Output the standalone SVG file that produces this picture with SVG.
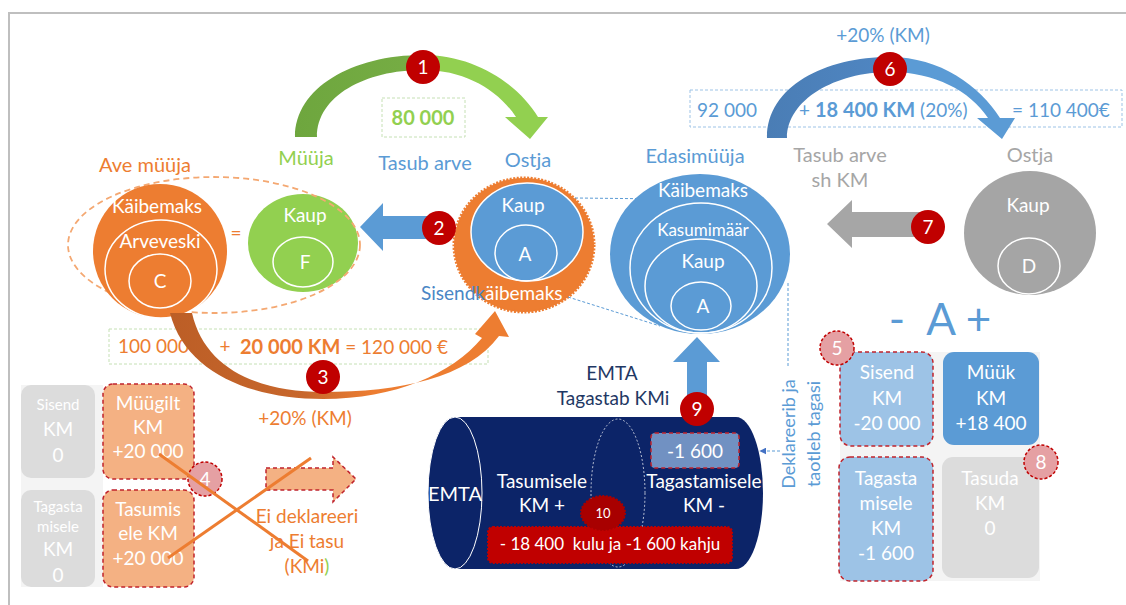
<svg xmlns="http://www.w3.org/2000/svg" width="1126" height="605" viewBox="0 0 1126 605">
<defs>
  <linearGradient id="gGreen" gradientUnits="userSpaceOnUse" x1="295" y1="0" x2="548" y2="0">
    <stop offset="0" stop-color="#6EA63E"/><stop offset="0.49" stop-color="#76AD44"/><stop offset="0.53" stop-color="#92D050"/><stop offset="1" stop-color="#92D050"/>
  </linearGradient>
  <linearGradient id="gBlue" gradientUnits="userSpaceOnUse" x1="767" y1="0" x2="1015" y2="0">
    <stop offset="0" stop-color="#4A7DB5"/><stop offset="0.48" stop-color="#4F86C2"/><stop offset="0.53" stop-color="#5B9BD5"/><stop offset="1" stop-color="#5B9BD5"/>
  </linearGradient>
  <linearGradient id="gOrange" gradientUnits="userSpaceOnUse" x1="170" y1="0" x2="509" y2="0">
    <stop offset="0" stop-color="#BC5E26"/><stop offset="0.4" stop-color="#C8672C"/><stop offset="0.6" stop-color="#ED7D31"/><stop offset="1" stop-color="#ED7D31"/>
  </linearGradient>
  <marker id="arrB" viewBox="0 0 10 10" refX="9" refY="5" markerWidth="7" markerHeight="7" orient="auto-start-reverse">
    <path d="M0,0 L10,5 L0,10 z" fill="#4472C4"/>
  </marker>
</defs>
<style>
  text { font-family: Lato, "Liberation Sans", sans-serif; text-anchor: middle; font-size: 19px; }
  .lbl { font-size: 20px; }
  .w { fill: #ffffff; }
  .blue { fill: #5B9BD5; }
  .green { fill: #92D050; }
  .orange { fill: #ED7D31; }
  .gray { fill: #A6A6A6; }
  .navy { fill: #1F3864; }
  .b { font-weight: bold; }
  .s { text-anchor: start; }
  .badge { fill: #C00000; }
  .pbadge { fill: #E5A0A3; stroke: #C00000; stroke-width: 1.5; stroke-dasharray: 3 2; }
  .ring { fill: none; stroke: #ffffff; stroke-width: 1.5; }
  .rdash { stroke: #C0232C; stroke-width: 1.5; stroke-dasharray: 4 3; }
  .cdash { fill: none; stroke: #5B9BD5; stroke-width: 1; stroke-dasharray: 3 2; }
</style>
<rect x="0" y="0" width="1126" height="605" fill="#ffffff"/>
<path d="M9,605 L9,13 L1126,13" fill="none" stroke="#BFBFBF" stroke-width="2"/>

<g id="labels-top">
  <text x="306" y="165" class="green lbl">Müüja</text>
  <text x="425" y="170" class="blue lbl">Tasub arve</text>
  <text x="528" y="167" class="blue lbl">Ostja</text>
  <rect x="382" y="98" width="83" height="39" fill="none" stroke="#C5E0B4" stroke-width="1" stroke-dasharray="3 2"/>
  <text x="423" y="125" class="green b" style="font-size:20px">80 000</text>
  <text x="145" y="172" class="orange lbl">Ave müüja</text>
  <text x="695" y="163" class="blue lbl">Edasimüüja</text>
  <text x="883" y="42" class="blue">+20% (KM)</text>
  <rect x="690" y="90" width="432" height="37" fill="none" stroke="#9DC3E6" stroke-width="1" stroke-dasharray="3 2"/>
  <text x="727" y="117" class="blue">92 000</text>
  <text x="799" y="117" class="blue s">+ <tspan class="b" style="font-size:20px">18 400 KM</tspan> (20%)</text>
  <text x="1012" y="117" class="blue s">= 110 400€</text>
  <text x="840" y="162" class="gray lbl">Tasub arve</text>
  <text x="840" y="187" class="gray lbl">sh KM</text>
  <text x="1030" y="162" class="gray lbl">Ostja</text>
</g>

<g id="node-myyja">
  <ellipse cx="303" cy="243" rx="55" ry="49" fill="#92D050"/>
  <ellipse cx="303" cy="262" rx="30" ry="25" class="ring"/>
  <text x="305" y="222" class="w">Kaup</text>
  <text x="305" y="269" class="w">F</text>
</g>

<g id="node-ave-myyja">
  <ellipse cx="214" cy="245" rx="146" ry="68" fill="none" stroke="#F4A872" stroke-width="1.8" stroke-dasharray="6 4"/>
  <ellipse cx="160" cy="251" rx="67" ry="67" fill="#ED7D31"/>
  <ellipse cx="161" cy="269" rx="56" ry="49" class="ring"/>
  <ellipse cx="160" cy="281" rx="31" ry="27" class="ring"/>
  <text x="157" y="213" class="w">Käibemaks</text>
  <text x="160" y="248" class="w">Arveveski</text>
  <text x="160" y="288" class="w">C</text>
  <text x="236" y="240" class="orange">=</text>
</g>

<g id="node-ostja">
  <ellipse cx="524" cy="245" rx="70" ry="67" fill="#ED7D31" stroke="#ED7D31" stroke-width="3" stroke-dasharray="2 1.5"/>
  <ellipse cx="527" cy="232" rx="56" ry="49" fill="#5B9BD5" stroke="#ffffff" stroke-width="1.5"/>
  <ellipse cx="526" cy="253" rx="31" ry="28" class="ring"/>
  <text x="523" y="212" class="w">Kaup</text>
  <text x="525" y="261" class="w">A</text>
  <text x="421" y="300" class="s"><tspan fill="#4A86C5">Sisendk</tspan><tspan fill="#ffffff">äibemaks</tspan></text>
</g>

<g id="node-edasimyyja">
  <ellipse cx="700" cy="254" rx="90" ry="80" fill="#5B9BD5"/>
  <ellipse cx="701" cy="268" rx="71" ry="65" class="ring"/>
  <ellipse cx="701" cy="286" rx="56" ry="47" class="ring"/>
  <ellipse cx="701" cy="306" rx="30" ry="24" class="ring"/>
  <text x="703" y="197" class="w">Käibemaks</text>
  <text x="703" y="236" class="w" style="font-size:17px">Kasumimäär</text>
  <text x="703" y="268" class="w">Kaup</text>
  <text x="703" y="313" class="w">A</text>
</g>

<g id="node-ostja2">
  <ellipse cx="1030" cy="233" rx="66" ry="62" fill="#A5A5A5"/>
  <ellipse cx="1029" cy="266" rx="31" ry="28" class="ring"/>
  <text x="1028" y="212" class="w">Kaup</text>
  <text x="1029" y="273" class="w">D</text>
</g>

<g id="node-summa3">
  <rect x="109" y="329" width="379" height="35" fill="none" stroke="#C5E0B4" stroke-width="1" stroke-dasharray="3 2"/>
  <text x="118" y="353" class="orange s">100 000</text>
  <text x="225" y="353" class="orange">+</text>
  <text x="240" y="354" class="orange s"><tspan class="b" style="font-size:20px">20 000 KM</tspan> = 120 000 €</text>
  <text x="305" y="425" class="orange">+20% (KM)</text>
</g>

<g id="node-left-boxes">
  <rect x="21" y="385" width="82" height="202" fill="#F4F4F4"/>
  <rect x="21" y="385" width="74" height="93" rx="10" fill="#DCDCDC"/>
  <text x="58" y="410" class="w" style="font-size:15px">Sisend</text>
  <text x="58" y="436" class="w">KM</text>
  <text x="58" y="462" class="w">0</text>
  <rect x="21" y="490" width="74" height="97" rx="10" fill="#DCDCDC"/>
  <text x="58" y="512" class="w" style="font-size:15px">Tagasta</text>
  <text x="58" y="532" class="w" style="font-size:15px">misele</text>
  <text x="58" y="556" class="w">KM</text>
  <text x="58" y="582" class="w">0</text>
  <rect x="103" y="384" width="91" height="95" rx="10" fill="#F4B183" class="rdash"/>
  <text x="148" y="410" class="w">Müügilt</text>
  <text x="148" y="434" class="w">KM</text>
  <text x="148" y="458" class="w">+20 000</text>
  <rect x="103" y="490" width="91" height="97" rx="10" fill="#F4B183" class="rdash"/>
  <text x="148" y="516" class="w">Tasumis</text>
  <text x="148" y="540" class="w">ele KM</text>
  <text x="148" y="565" class="w">+20 000</text>
  <circle cx="205" cy="479" r="17" class="pbadge"/><text x="205" y="486" class="w">4</text>
</g>

<g id="node-ei-deklareeri">
  <text x="307" y="523" class="orange">Ei deklareeri</text>
  <text x="307" y="548" class="orange">ja Ei tasu</text>
  <text x="307" y="573" class="orange">(KMi<tspan class="green">)</tspan></text>
</g>

<g id="node-emta">
  <text x="612" y="380" class="navy">EMTA</text>
  <text x="613" y="405" class="navy">Tagastab KMi</text>
  <path d="M455,417 L736,417 A27,76 0 0 1 736,569 L455,569 Z" fill="#0C2468"/>
  <ellipse cx="455" cy="493" rx="27" ry="76" fill="#0C2468" stroke="#ffffff" stroke-width="1"/>
  <ellipse cx="618" cy="493" rx="27" ry="74" fill="none" stroke="#ffffff" stroke-width="1" stroke-dasharray="2 2" opacity="0.7"/>
  <text x="455" y="501" class="w" style="font-size:20px">EMTA</text>
  <text x="542" y="488" class="w">Tasumisele</text>
  <text x="542" y="512" class="w">KM +</text>
  <text x="704" y="488" class="w">Tagastamisele</text>
  <text x="704" y="512" class="w">KM -</text>
  <rect x="651" y="433" width="88" height="35" rx="4" fill="#7191C2" class="rdash"/>
  <text x="695" y="458" class="w">-1 600</text>
  <rect x="488" y="527" width="244" height="36" rx="5" fill="#C00000" stroke="#C00000" stroke-width="2" stroke-dasharray="2 1.5"/>
  <text x="610" y="550" class="w" style="font-size:17px" xml:space="preserve">- 18 400  kulu ja -1 600 kahju</text>
  <ellipse cx="603" cy="513" rx="22" ry="17" fill="#A80000" stroke="#A80000" stroke-width="2" stroke-dasharray="2 1.5"/>
  <text x="603" y="518" class="w" style="font-size:13px">10</text>
</g>

<g id="node-deklareerib">
  <text transform="translate(795,434) rotate(-90)" class="blue" style="font-size:18px">Deklareerib ja</text>
  <text transform="translate(820,434) rotate(-90)" class="blue" style="font-size:18px">taotleb tagasi</text>
</g>

<g id="node-right-boxes">
  <text x="940" y="335" class="blue" style="font-size:44px" xml:space="preserve">-  A +</text>
  <rect x="840" y="352" width="200" height="229" fill="#F4F4F4"/>
  <rect x="840" y="352" width="93" height="94" rx="11" fill="#9DC3E6" class="rdash"/>
  <text x="887" y="379" class="w">Sisend</text>
  <text x="887" y="405" class="w">KM</text>
  <text x="887" y="430" class="w">-20 000</text>
  <rect x="943" y="352" width="96" height="93" rx="11" fill="#5B9BD5"/>
  <text x="991" y="379" class="w">Müük</text>
  <text x="991" y="405" class="w">KM</text>
  <text x="991" y="430" class="w">+18 400</text>
  <rect x="839" y="457" width="94" height="124" rx="11" fill="#9DC3E6" class="rdash"/>
  <text x="886" y="485" class="w">Tagasta</text>
  <text x="886" y="510" class="w">misele</text>
  <text x="886" y="535" class="w">KM</text>
  <text x="886" y="560" class="w">-1 600</text>
  <rect x="942" y="457" width="97" height="121" rx="11" fill="#DCDCDC"/>
  <text x="990" y="485" class="w">Tasuda</text>
  <text x="990" y="510" class="w">KM</text>
  <text x="990" y="535" class="w">0</text>
  <circle cx="837" cy="348" r="17" class="pbadge"/><text x="837" y="355" class="w">5</text>
  <circle cx="1041" cy="462" r="17" class="pbadge"/><text x="1041" y="469" class="w">8</text>
</g>

<g id="connectors">
  <path id="arc1" d="M295,137 C295,88 352,55 423,55 C475,55 518,84 538,117 L548,117 L530,139 L505,117 L516,117 C498,90 465,70 423,70 C365,70 317,96 317,137 Z" fill="url(#gGreen)"/>
  <path id="arc6" d="M767,138 C767,86 825,57 890,57 C940,57 980,86 1000,118 L1015,118 L1002,139 L977,118 L988,118 C970,91 935,72 890,72 C835,72 787,100 787,138 Z" fill="url(#gBlue)"/>
  <path id="arc3" d="M170,313 C185,372 250,399 323,399 C395,399 452,374 482,338 L475,334 L495,311 L509,337 L499,336 C468,378 400,392 323,392 C260,392 205,370 192,313 Z" fill="url(#gOrange)"/>
  <polygon id="arrow2" points="360,227 383,203 383,216 440,216 440,239 383,239 383,251" fill="#5B9BD5"/>
  <polygon id="arrow7" points="827,224 852,200 852,212 925,212 925,237 852,237 852,248" fill="#A6A6A6"/>
  <polygon id="arrow9" points="697,337 720,362 707,362 707,405 687,405 687,362 673,362" fill="#5B9BD5"/>
  <polygon id="arrowX" points="266,468 333,468 333,457 356,479 333,502 333,490 266,490" fill="#F4B183" class="rdash"/>
  <line x1="575" y1="198" x2="668" y2="199" class="cdash"/>
  <line x1="568" y1="297" x2="660" y2="326" class="cdash"/>
  <line x1="788" y1="283" x2="788" y2="368" class="cdash"/>
  <line x1="780" y1="451" x2="760" y2="451" class="cdash" stroke="#4472C4" marker-end="url(#arrB)"/>
  <line x1="159" y1="454" x2="308" y2="561" stroke="#ED7D31" stroke-width="3"/>
  <line x1="168" y1="558" x2="311" y2="458" stroke="#ED7D31" stroke-width="3"/>
</g>

<g id="badges">
  <circle cx="423" cy="67" r="17" class="badge"/><text x="423" y="74" class="w">1</text>
  <circle cx="439" cy="228" r="17" class="badge"/><text x="439" y="235" class="w">2</text>
  <circle cx="323" cy="377" r="17" class="badge"/><text x="323" y="384" class="w">3</text>
  <circle cx="890" cy="69" r="17" class="badge"/><text x="890" y="76" class="w">6</text>
  <circle cx="928" cy="227" r="17" class="badge"/><text x="928" y="234" class="w">7</text>
  <circle cx="697" cy="409" r="17" class="badge"/><text x="697" y="416" class="w">9</text>
</g>
</svg>
